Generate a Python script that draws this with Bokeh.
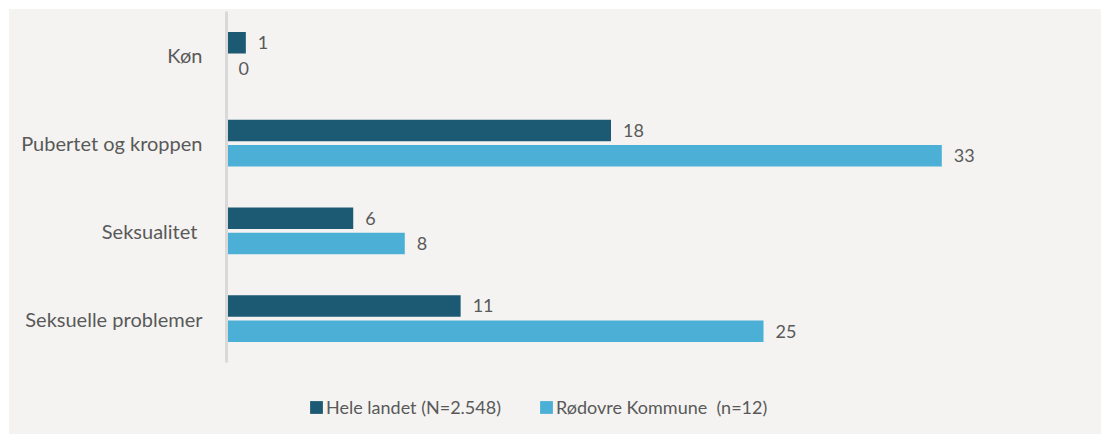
from bokeh.plotting import figure
from bokeh.models import ColumnDataSource, Legend, LegendItem, FactorRange
from bokeh.transform import dodge
from bokeh.core.properties import value
from bokeh.layouts import column
from bokeh.embed import file_html
from bokeh.resources import INLINE

# ---- data ----
categories = ["Køn", "Pubertet og kroppen", "Seksualitet ", "Seksuelle problemer"]
hele_landet = [0.9, 17.9, 5.9, 10.9]
rodovre = [0.0, 33.3, 8.3, 25.0]
hele_labels = ["1", "18", "6", "11"]
rodovre_labels = ["0", "33", "8", "25"]
series_names = ["Hele landet (N=2.548)", "Rødovre Kommune  (n=12)"]
colors = ["#1b5a72", "#4bafd6"]

FONT = "Lato"
TEXT_COLOR = "#595959"
BG = "#f4f3f1"
W = 1092

src = ColumnDataSource(dict(cat=categories, hele=hele_landet, rod=rodovre,
                            hl=hele_labels, rl=rodovre_labels))

p = figure(width=W, height=371,
           y_range=FactorRange(factors=list(reversed(categories))),
           x_range=(0, 38.5),
           output_backend="svg", toolbar_location=None,
           min_border_left=217, min_border_right=48,
           min_border_top=2, min_border_bottom=18,
           background_fill_color=BG, border_fill_color=BG,
           outline_line_color=None,
           styles={"background-color": BG})

off = 0.145
h = 0.245
r1 = p.hbar(y=dodge("cat", off, range=p.y_range), left=0, right="hele", height=h,
            source=src, fill_color=colors[0], line_color=None)
r2 = p.hbar(y=dodge("cat", -off, range=p.y_range), left=0, right="rod", height=h,
            source=src, fill_color=colors[1], line_color=None)

for xcol, tcol, o in (("hele", "hl", off), ("rod", "rl", -off)):
    p.text(x=xcol, y=dodge("cat", o, range=p.y_range), text=tcol, source=src,
           x_offset=12, text_align="left", text_baseline="middle",
           text_font=value(FONT), text_font_size="18px", text_color=TEXT_COLOR)

p.xaxis.visible = False
p.xgrid.visible = False
p.ygrid.visible = False
ya = p.yaxis[0]
ya.axis_line_color = "#d9d9d9"
ya.axis_line_width = 3
ya.major_tick_line_color = None
ya.minor_tick_line_color = None
ya.major_label_standoff = 18
ya.major_label_text_font = FONT
ya.major_label_text_font_size = "20px"
ya.major_label_text_color = TEXT_COLOR

# ---- legend strip ----
lf = figure(width=W, height=54, output_backend="svg", toolbar_location=None,
            min_border=0, background_fill_color=BG,
            border_fill_color=BG, outline_line_color=None,
            x_range=(0, 1), y_range=(0, 1),
            styles={"background-color": BG})
lf.axis.visible = False
lf.grid.visible = False
# zero-size placeholder bars: they only carry the legend swatch styles
dummy = ColumnDataSource(dict(y=[0], right=[0]))
l1 = lf.hbar(y="y", left=0, right="right", height=0, source=dummy,
             fill_color=colors[0], line_color=None)
l2 = lf.hbar(y="y", left=0, right="right", height=0, source=dummy,
             fill_color=colors[1], line_color=None)

legend = Legend(items=[LegendItem(label=series_names[0], renderers=[l1]),
                       LegendItem(label=series_names[1], renderers=[l2])],
                orientation="horizontal", location=(82, 16),
                glyph_width=16, glyph_height=16, label_standoff=2, spacing=37,
                padding=0, margin=0, border_line_color=None,
                background_fill_alpha=0,
                label_text_font=FONT, label_text_font_size="18px",
                label_text_color=TEXT_COLOR)
lf.add_layout(legend)

layout = column(p, lf, styles={"background-color": BG,
                               "margin-left": "9px", "margin-top": "9px"})
open("out.html", "w").write(file_html(layout, INLINE))
